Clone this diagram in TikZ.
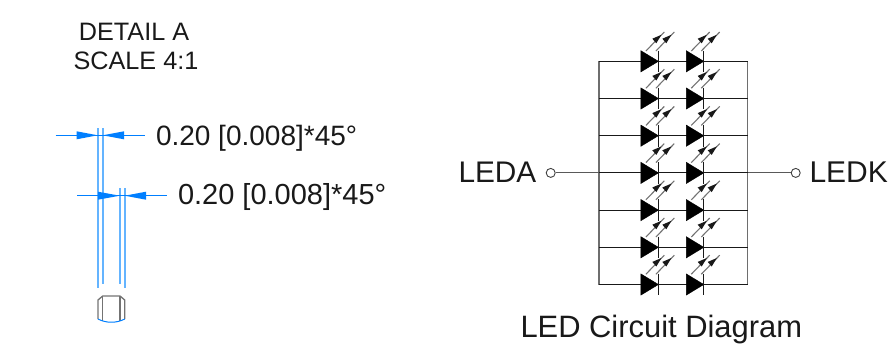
\documentclass[tikz,border=0pt]{standalone}
\usepackage{fontspec}
\setmainfont{Liberation Sans}
\usetikzlibrary{arrows.meta,calc}
\definecolor{dimblue}{RGB}{0,127,255}
\definecolor{extblue}{RGB}{100,180,255}
\definecolor{busgray}{RGB}{110,110,110}
\newcommand{\px}[1]{\fontsize{#1}{#1}\selectfont}
\tikzset{
  x=1pt,y=-1pt,
  lbl/.style={inner sep=0pt,outer sep=0pt,anchor=base,text=black!90},
  dimline/.style={draw=dimblue,line width=0.9pt},
  dimhead/.style={fill=dimblue,draw=none},
  extline/.style={draw=extblue,line width=1.7pt},
  wire/.style={draw=black!90,line width=1.1pt},
  bus/.style={draw=busgray,line width=1.4pt},
  termwire/.style={draw=black!65,line width=0.9pt},
  terminal/.style={circle,draw=black!75,fill=white,line width=0.9pt,minimum size=9pt,inner sep=0pt},
  ledbody/.style={fill=black,draw=black,line width=0.4pt,line join=miter},
  ledbar/.style={draw=black!90,line width=1.3pt},
  raygray/.style={draw=black!55,line width=1.1pt},
  rayhead/.style={fill=black!90,draw=none},
  partline/.style={draw=black!55,line width=1.3pt},
}
\begin{document}
\begin{tikzpicture}
\useasboundingbox (0,0) rectangle (890,349);
% titles
\node[lbl] (t1) at (134,40) {\px{25.2}DETAIL A};
\node[lbl] (t2) at (136,69) {\px{25.2}SCALE 4:1};
\node[lbl,anchor=base west] (d1) at (156,145) {\px{28}0.20 [0.008]*45°};
\node[lbl,anchor=base west] (d2) at (178,204.5) {\px{29}0.20 [0.008]*45°};
% extension lines
\coordinate (e1t) at (97.7,128); \coordinate (e1b) at (97.7,288);
\coordinate (e2t) at (102.7,128); \coordinate (e2b) at (102.7,284);
\coordinate (e3t) at (119.8,188); \coordinate (e3b) at (119.8,284);
\coordinate (e4t) at (124.7,188); \coordinate (e4b) at (124.7,288);
\foreach \i in {1,2,3,4} \draw[extline] (e\i t) -- (e\i b);
% dimension 1
\coordinate (a1) at (55.7,135.3); \coordinate (a2) at (145.3,135.3);
\draw[dimline] (a1) -- (a2);
\fill[dimhead] (76.7,131.3) -- (97.7,135.3) -- (76.7,139.3) -- cycle;
\fill[dimhead] (124,131.3) -- (102.7,135.3) -- (124,139.3) -- cycle;
% dimension 2
\coordinate (b1) at (77,195.7); \coordinate (b2) at (166.7,195.7);
\draw[dimline] (b1) -- (b2);
\fill[dimhead] (98,191.7) -- (119.8,195.7) -- (98,199.7) -- cycle;
\fill[dimhead] (146,191.7) -- (124.7,195.7) -- (146,199.7) -- cycle;
% small part
\draw[partline] (98,319) -- (98,300) -- (102.7,296) -- (120,296) -- (124.7,300) -- (124.7,319);
\draw[partline] (102.7,296) -- (102.7,321);
\draw[partline] (120,296) -- (120,321);
\draw[dimblue,line width=1pt] (98,319) .. controls (106,323.3) and (116.7,323.3) .. (124.7,319);
% circuit buses
\coordinate (lt) at (599,61.3); \coordinate (lb) at (599,284.5);
\coordinate (rt) at (747.7,61.3); \coordinate (rb) at (747.7,284.5);
\draw[bus] (lt) -- (lb);
\draw[bus] (rt) -- (rb);
% rows
\foreach \r [count=\k] in {61.3,98.5,135.7,172.9,210.1,247.3,284.5} {
  \coordinate (wl\k) at (599,\r);
  \coordinate (wr\k) at (747.7,\r);
  \draw[wire] (wl\k) -- (wr\k);
  \foreach \xa in {640.9,686.3} {
    \pgfmathsetmacro{\xb}{\xa+17.5}
    \fill[ledbody] (\xa,\r-10.6) -- (\xb,\r) -- (\xa,\r+10.6) -- cycle;
    \draw[ledbar] (\xb,\r-10.8) -- (\xb,\r+10.8);
    \foreach \dx in {0,10} {
      \draw[raygray] ({\xa+5+\dx},\r-10.3) -- ({\xa+23.4+\dx},\r-29.3);
      \fill[rayhead] ({\xa+20.5+\dx},\r-26.5) -- ({\xa+15.4+\dx},\r-18) -- ({\xa+11.4+\dx},\r-22.6) -- cycle;
    }
  }
}
% terminals
\node[terminal] (ta) at (550.7,172.9) {};
\node[terminal] (tk) at (795.7,172.9) {};
\draw[termwire] (ta) -- (wl4);
\draw[termwire] (wr4) -- (tk);
\node[lbl,anchor=base west] (la) at (458.5,182.5) {\px{29.8}LEDA};
\node[lbl,anchor=base west] (lk) at (809.5,182.5) {\px{30}LEDK};
\node[lbl,anchor=base west] (cap) at (520.5,337) {\px{30.9}LED Circuit Diagram};
\end{tikzpicture}
\end{document}
